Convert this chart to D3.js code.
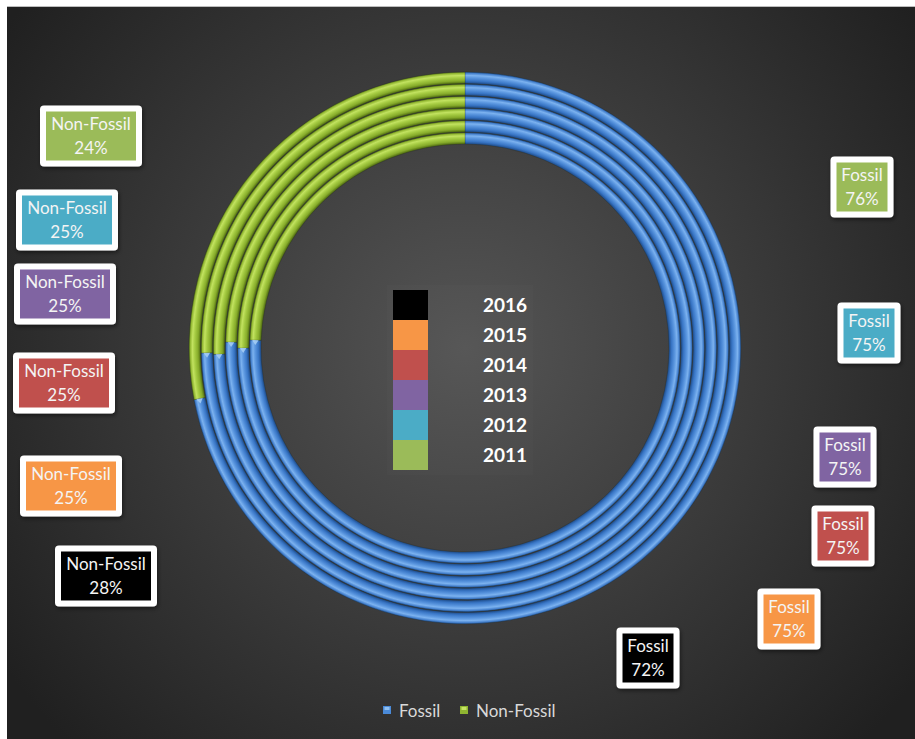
<!DOCTYPE html>
<html>
<head>
<meta charset="utf-8">
<script src="https://cdn.jsdelivr.net/npm/d3@7"></script>
<style>
  html, body { margin: 0; padding: 0; background: #ffffff; }
  svg { display: block; }
  text { font-family: Lato, "Open Sans", sans-serif; }
</style>
</head>
<body>
<svg id="chart" width="915" height="739"></svg>
<script>
// Energy mix per year, percent of total (inner ring = 2011, outer ring = 2016)
const years      = ["2011", "2012", "2013", "2014", "2015", "2016"];
const fossil     = [75.6, 75.0, 75.4, 74.6, 74.7, 72.0];
const nonFossil  = [24.4, 25.0, 24.6, 25.4, 25.3, 28.0];
const categories = ["Fossil", "Non-Fossil"];
const yearColors = ["#9bbb59", "#4bacc6", "#8064a2", "#c0504d", "#f79646", "#000000"];

// Hand-placed callout centres for each year's data labels
const nonFossilLabelPos = [[91, 136], [67, 220], [65, 294], [64, 383], [71, 486], [106, 576]];
const fossilLabelPos    = [[862, 187], [869, 333], [845, 457], [843, 536], [789, 619], [648, 658]];

const W = 915, H = 739;
const cx = 465, cy = 348;
const svg = d3.select("#chart");
const defs = svg.append("defs");

// Panel background: dark radial wash, lighter towards the middle
const bg = defs.append("radialGradient").attr("id", "bgGrad")
  .attr("gradientUnits", "userSpaceOnUse")
  .attr("cx", cx).attr("cy", cy).attr("r", 560);
bg.append("stop").attr("offset", 0).attr("stop-color", "#555555");
bg.append("stop").attr("offset", 0.5).attr("stop-color", "#3b3b3b");
bg.append("stop").attr("offset", 1).attr("stop-color", "#202020");

svg.append("rect").attr("x", 7).attr("y", 6).attr("width", W - 7).attr("height", H - 6)
  .attr("fill", "url(#bgGrad)");
svg.append("line").attr("x1", 7).attr("x2", W).attr("y1", 6.5).attr("y2", 6.5)
  .attr("stroke", "#bdbdbd").attr("stroke-width", 1);

// Soft shadow for callouts
const sh = defs.append("filter").attr("id", "shadow")
  .attr("x", "-20%").attr("y", "-20%").attr("width", "140%").attr("height", "150%");
sh.append("feDropShadow").attr("dx", 1).attr("dy", 2).attr("stdDeviation", 2)
  .attr("flood-color", "#000").attr("flood-opacity", 0.5);

// Ring radii from a band scale over the years
const ring = d3.scaleBand().domain(years).range([204, 276]).paddingInner(0.05);

// Category tube shading: dark at both edges, highlight towards the outer side
const tubeStops = {
  "Fossil":     ["#1f4c88", "#3774c4", "#5a96df", "#7cb2ef", "#4682cf", "#24528f"],
  "Non-Fossil": ["#4d6812", "#86ab2a", "#a6cc43", "#c2e260", "#95ba34", "#56721a"]
};
const stopOffsets = [0, 0.22, 0.5, 0.7, 0.88, 1];

years.forEach((y, i) => {
  const r0 = ring(y), r1 = ring(y) + ring.bandwidth();
  categories.forEach(c => {
    // Gradient lives in the chart group's (centred) coordinate space
    const g = defs.append("radialGradient")
      .attr("id", `tube-${i}-${c === "Fossil" ? "f" : "n"}`)
      .attr("gradientUnits", "userSpaceOnUse")
      .attr("cx", 0).attr("cy", 0).attr("fx", 0).attr("fy", 0).attr("r", r1);
    tubeStops[c].forEach((col, k) => {
      g.append("stop")
        .attr("offset", (r0 + (r1 - r0) * stopOffsets[k]) / r1)
        .attr("stop-color", col);
    });
  });
});

const pie = d3.pie().sort(null).value(d => d.value);
const chartG = svg.append("g").attr("transform", `translate(${cx},${cy})`);

years.forEach((y, i) => {
  const slices = pie([
    { cat: "Fossil", value: fossil[i] },
    { cat: "Non-Fossil", value: nonFossil[i] }
  ]);
  const arc = d3.arc().innerRadius(ring(y)).outerRadius(ring(y) + ring.bandwidth());
  chartG.selectAll(null).data(slices).enter().append("path")
    .attr("d", arc)
    .attr("fill", d => `url(#tube-${i}-${d.data.cat === "Fossil" ? "f" : "n"})`)
    .attr("stroke", "rgba(20,30,20,0.35)")
    .attr("stroke-width", 0.6);

  // Bevel notch where the fossil segment meets the non-fossil one
  const a = slices[0].endAngle;
  const rm = ring(y) + ring.bandwidth() * 0.5;
  const half = ring.bandwidth() * 0.28;
  const da = 5 / rm;
  const pt = (r, ang) => [r * Math.sin(ang), -r * Math.cos(ang)];
  const tri = [pt(rm - half, a), pt(rm + half, a), pt(rm, a - da)];
  chartG.append("path")
    .attr("d", d3.line()(tri) + "Z")
    .attr("fill", "#a9d0f5").attr("opacity", 0.85);
});

// Central year key
const key = svg.append("g");
key.append("rect").attr("x", 387).attr("y", 285).attr("width", 146).attr("height", 190)
  .attr("fill", "rgba(255,255,255,0.012)");
const keyYears = years.slice().reverse();
const keyY = d3.scaleBand().domain(keyYears).range([290, 470]);
key.selectAll(null).data(keyYears).enter().append("rect")
  .attr("x", 393).attr("y", d => keyY(d)).attr("width", 35).attr("height", keyY.bandwidth())
  .attr("fill", d => yearColors[years.indexOf(d)]);
key.selectAll(null).data(keyYears).enter().append("text")
  .attr("x", 483).attr("y", d => keyY(d) + 22)
  .attr("fill", "#ffffff").attr("font-size", 19).attr("font-weight", 700)
  .text(d => d);

// Data-label callouts
const pct = d3.format(".0%");
function callout(cx0, cy0, w, title, value, color) {
  const g = svg.append("g").attr("transform", `translate(${cx0},${cy0})`);
  g.append("rect").attr("x", -w / 2).attr("y", -30.5).attr("width", w).attr("height", 61)
    .attr("rx", 4).attr("fill", "#ffffff").attr("filter", "url(#shadow)");
  g.append("rect").attr("x", -w / 2 + 6).attr("y", -24.5).attr("width", w - 12).attr("height", 49)
    .attr("fill", color);
  g.append("text").attr("text-anchor", "middle").attr("y", -6)
    .attr("fill", "#f4f4f4").attr("font-size", 17).text(title);
  g.append("text").attr("text-anchor", "middle").attr("y", 18)
    .attr("fill", "#f4f4f4").attr("font-size", 17).text(pct(value / 100));
}
years.forEach((y, i) => {
  callout(nonFossilLabelPos[i][0], nonFossilLabelPos[i][1], 102, "Non-Fossil", nonFossil[i], yearColors[i]);
  callout(fossilLabelPos[i][0], fossilLabelPos[i][1], 63, "Fossil", fossil[i], yearColors[i]);
});

// Category legend at the bottom
const legend = svg.append("g");
const legendItems = [
  { cat: "Fossil", x: 383, fill: "#4a8ad8", hi: "#8fc0f2" },
  { cat: "Non-Fossil", x: 460, fill: "#8fb531", hi: "#c6e463" }
];
legendItems.forEach(d => {
  legend.append("rect").attr("x", d.x).attr("y", 706).attr("width", 8).attr("height", 8).attr("fill", d.fill);
  legend.append("rect").attr("x", d.x + 1.5).attr("y", 707).attr("width", 5).attr("height", 3).attr("fill", d.hi);
  legend.append("text").attr("x", d.x + 16).attr("y", 717)
    .attr("fill", "#d9d9d9").attr("font-size", 17).text(d.cat);
});
</script>
</body>
</html>
